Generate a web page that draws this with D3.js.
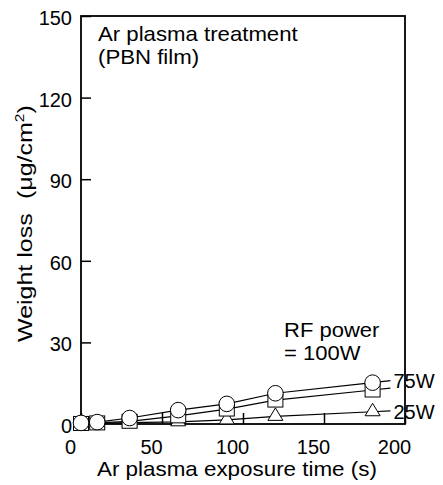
<!DOCTYPE html>
<html>
<head>
<meta charset="utf-8">
<script src="https://cdn.jsdelivr.net/npm/d3@7"></script>
<style>
  body { margin: 0; background: #fff; }
  text { font-family: "Liberation Sans", Arial, sans-serif; fill: #000; }
</style>
</head>
<body>
<div id="chart"></div>
<script>
// Ar plasma treatment of PBN film - weight loss vs exposure time

const times = [0, 10, 30, 60, 90, 120, 180];
const loss100W = [0.4, 0.7, 2.2, 5.1, 7.4, 11.3, 15.2];
const loss75W = [0.2, 0.4, 1.0, 3.0, 5.5, 8.8, 12.5];
const loss25W = [0.1, 0.2, 0.5, 0.8, 1.5, 2.8, 4.5];
const seriesNames = ["RF power\n= 100W", "75W", "25W"];
const xTicks = [0, 50, 100, 150, 200];
const yTicks = [0, 30, 60, 90, 120, 150];

let W = 443, H = 485;
let margin = {top: 16, right: 38, bottom: 61, left: 81};
let width = W - margin.left - margin.right;
let height = H - margin.top - margin.bottom;

let svg = d3.select("#chart").append("svg")
    .attr("width", W)
    .attr("height", H);

let g = svg.append("g")
    .attr("transform", "translate(" + margin.left + "," + margin.top + ")");

let x = d3.scaleLinear().domain([0, 200]).range([0, width]);
let y = d3.scaleLinear().domain([0, 150]).range([height, 0]);

// axes with inward ticks
let xAxis = g.append("g")
    .attr("transform", "translate(0," + height + ")")
    .call(d3.axisBottom(x).tickValues(xTicks).tickSize(-11).tickSizeOuter(0).tickPadding(16));
xAxis.selectAll("text").attr("dx", -11).style("font-size", "20px");

let yAxis = g.append("g")
    .call(d3.axisLeft(y).tickValues(yTicks).tickSize(-10).tickSizeOuter(0).tickPadding(9));
yAxis.selectAll("text").attr("dy", "0.42em").style("font-size", "20px");

g.selectAll(".domain").remove();
g.selectAll(".tick line").attr("stroke", "#000").attr("stroke-width", 1.5);

// frame
g.append("rect")
    .attr("width", width)
    .attr("height", height)
    .attr("fill", "none")
    .attr("stroke", "#000")
    .attr("stroke-width", 1.8);

// series
let series = [
    {name: "100W", values: loss100W},
    {name: "75W", values: loss75W},
    {name: "25W", values: loss25W}
];

let line = d3.line()
    .x(d => x(d[0]))
    .y(d => y(d[1]));

series.forEach(s => {
    let pts = times.map((t, i) => [t, s.values[i]]);
    // short leader past the last point, same slope as last segment
    let n = pts.length;
    let slope = (pts[n - 1][1] - pts[n - 2][1]) / (pts[n - 1][0] - pts[n - 2][0]);
    pts.push([191, pts[n - 1][1] + slope * (191 - pts[n - 1][0])]);
    g.append("path")
        .datum(pts)
        .attr("d", line)
        .attr("fill", "none")
        .attr("stroke", "#000")
        .attr("stroke-width", 1.2);
});

// markers: triangles, squares, then circles on top
let triPath = "M0,-7.5L7.5,5L-7.5,5Z";
g.selectAll(".tri")
    .data(times.map((t, i) => [t, loss25W[i]]))
    .join("path")
    .attr("class", "tri")
    .attr("d", triPath)
    .attr("transform", d => "translate(" + x(d[0]) + "," + (y(d[1]) - 1) + ")")
    .attr("fill", "#fff")
    .attr("stroke", "#000")
    .attr("stroke-width", 1);

g.selectAll(".sq")
    .data(times.map((t, i) => [t, loss75W[i]]))
    .join("rect")
    .attr("class", "sq")
    .attr("x", d => x(d[0]) - 7.5)
    .attr("y", d => y(d[1]) - 7)
    .attr("width", 15)
    .attr("height", 14)
    .attr("fill", "#fff")
    .attr("stroke", "#000")
    .attr("stroke-width", 1);

g.selectAll(".circ")
    .data(times.map((t, i) => [t, loss100W[i]]))
    .join("circle")
    .attr("class", "circ")
    .attr("cx", d => x(d[0]))
    .attr("cy", d => y(d[1]))
    .attr("r", 7.8)
    .attr("fill", "#fff")
    .attr("stroke", "#000")
    .attr("stroke-width", 1);

// stretched text helper (reference type is slightly wide)
function label(parent, tx, ty, str, size, k, rot) {
    let t = parent.append("text")
        .attr("transform", "translate(" + tx + "," + ty + ")" + (rot ? " rotate(" + rot + ")" : "") + " scale(" + k + ",1)")
        .style("font-size", size + "px")
        .text(str);
    return t;
}

// annotation
label(svg, 98, 41, "Ar plasma treatment", 20, 1.11);
label(svg, 98, 64, "(PBN film)", 20, 1.11);

let rfLines = seriesNames[0].split("\n");
label(svg, 284, 337, rfLines[0], 20, 1.1);
label(svg, 284, 360, rfLines[1], 20, 1.1);

label(svg, margin.left + x(191) + 3, margin.top + y(loss75W[6]) - 2, seriesNames[1], 20, 1.0);
label(svg, margin.left + x(191) + 3, margin.top + y(loss25W[6]) + 7, seriesNames[2], 20, 1.0);

// axis titles
label(svg, 97, 476, "Ar plasma exposure time (s)", 20, 1.12);

let yl = label(svg, 32, 342, "", 21, 1.19, -90);
yl.append("tspan").text("Weight loss");
yl.append("tspan").attr("dx", 12).text("(μg/cm");
yl.append("tspan").attr("dy", -8).style("font-size", "13px").text("2");
yl.append("tspan").attr("dy", 8).text(")");
</script>
</body>
</html>
